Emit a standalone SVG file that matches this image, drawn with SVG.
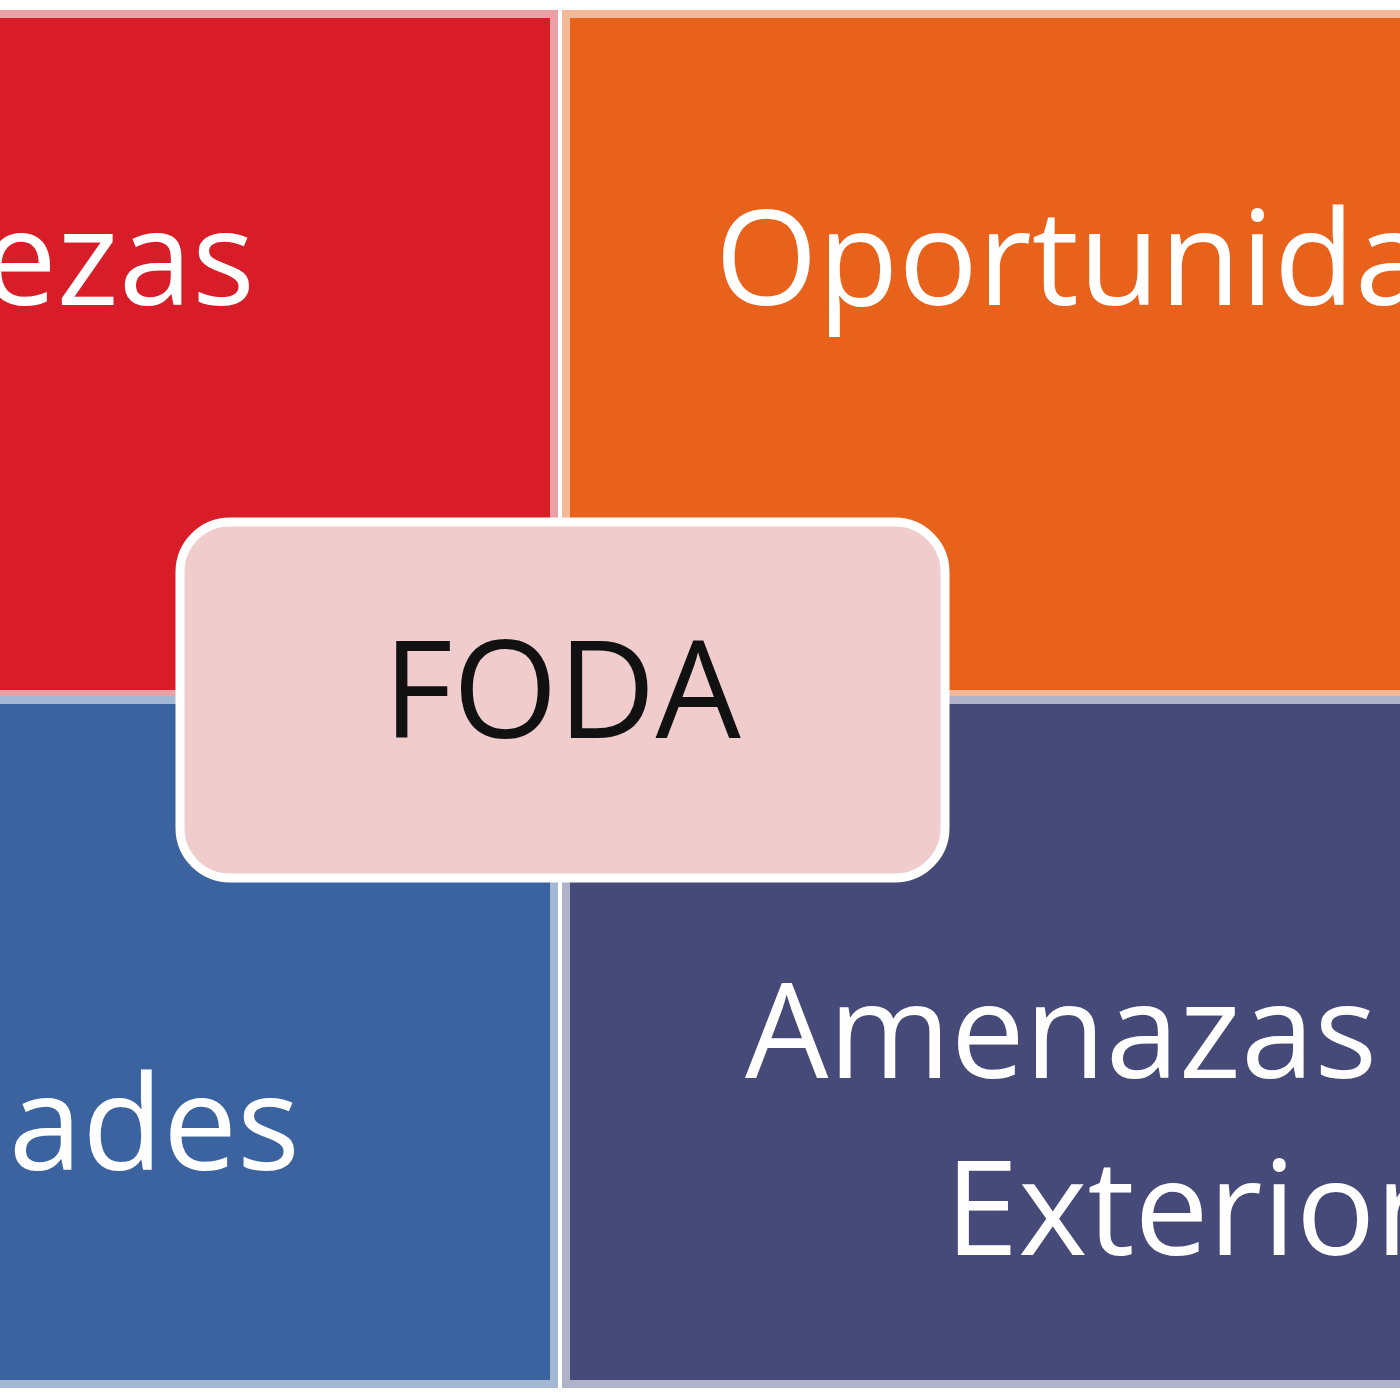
<svg xmlns="http://www.w3.org/2000/svg" width="1400" height="1400" viewBox="0 0 1400 1400">
<style>
.q{stroke-width:8}
.t{font-family:"Open Sans","Liberation Sans",sans-serif;font-size:132px;fill:#fff}
</style>
<rect width="1400" height="1400" fill="#fff"/>
<g id="fortalezas"><rect class="q" x="-10" y="14" width="564" height="680" fill="#d81c28" stroke="#eaa0a4"/><text class="t" x="255" y="305" text-anchor="end">Fortalezas</text></g>
<g id="oportunidades"><rect class="q" x="566" y="14" width="850" height="680" fill="#e8621c" stroke="#f2b898"/><text class="t" x="715" y="305">Oportunidades</text></g>
<g id="debilidades"><rect class="q" x="-10" y="700" width="564" height="684" fill="#3a63a0" stroke="#a4b8d4"/><text class="t" x="300" y="1170" text-anchor="end">Debilidades</text></g>
<g id="amenazas"><rect class="q" x="566" y="700" width="850" height="684" fill="#454a78" stroke="#b0b2c8"/><text class="t" x="745" y="1078">Amenazas</text><text class="t" x="945" y="1255">Exteriores</text></g>
<g id="connectors"></g>
<g id="foda"><rect x="180" y="522" width="765" height="356" rx="50" fill="#f0cccc" stroke="#fff" stroke-width="9"/><text x="562" y="738" text-anchor="middle" font-family="Open Sans,Liberation Sans,sans-serif" font-size="135" fill="#111">FODA</text></g>
</svg>
